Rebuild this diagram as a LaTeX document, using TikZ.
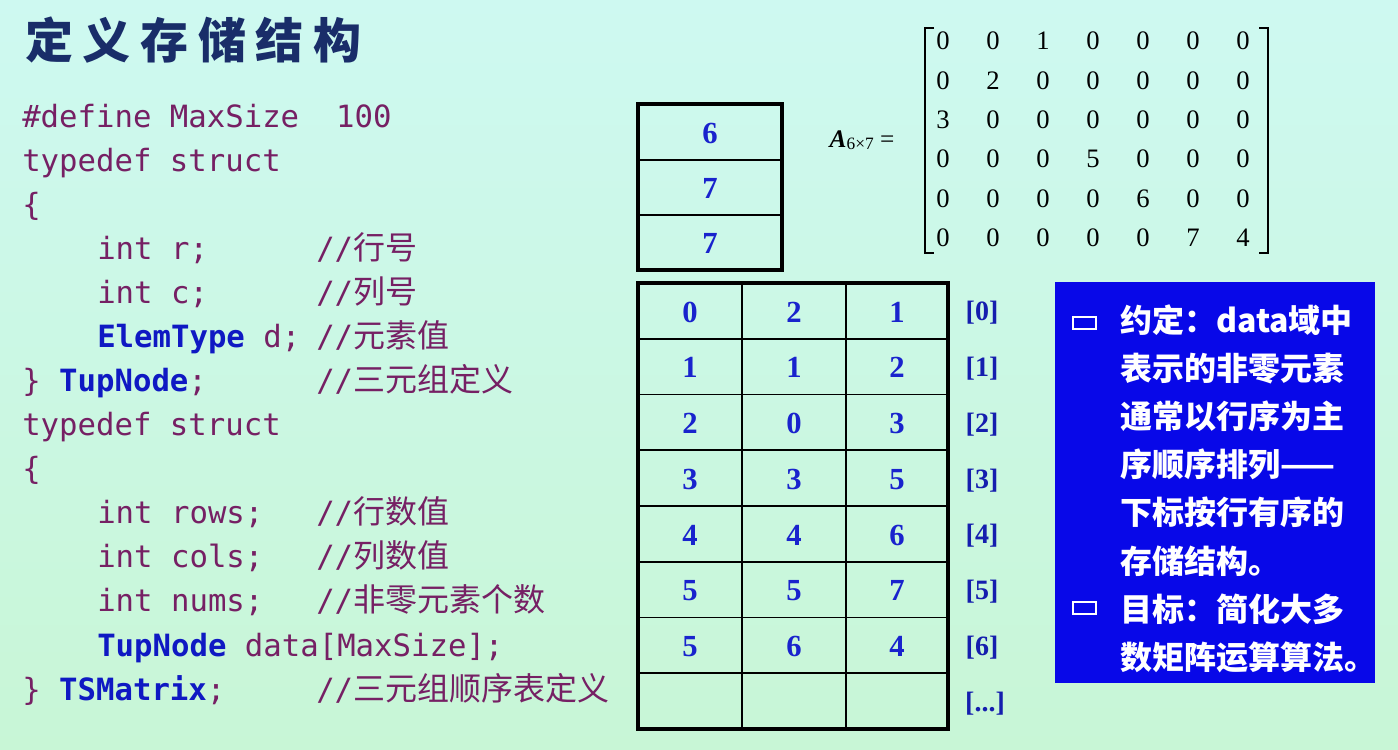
\documentclass[tikz,border=0pt]{standalone}
\usepackage{fontspec}
\setmainfont{Liberation Serif}
\newfontfamily\cjk{Noto Sans CJK SC}
\newfontfamily\codefont{DejaVu Sans Mono}
\newfontfamily\titlefont[LetterSpace=20]{Noto Sans CJK SC}
\definecolor{bgtop}{RGB}{206,249,241}
\definecolor{bgbot}{RGB}{200,246,214}
\definecolor{codec}{RGB}{118,32,100}
\definecolor{kwc}{RGB}{15,25,195}
\definecolor{numc}{RGB}{25,35,205}
\definecolor{boxc}{RGB}{8,8,232}
\definecolor{titlec}{RGB}{25,45,105}
\newcommand{\kwd}[1]{\textcolor{kwc}{\bfseries #1}}
\newcommand{\cjkc}{\cjk\fontsize{24}{28}\selectfont}
\begin{document}
\begin{tikzpicture}[x=0.75pt,y=-0.75pt,
  code/.style={anchor=base west, inner sep=0pt, text=codec, font=\codefont\fontsize{23}{27}\selectfont},
  num/.style={inner sep=0pt, text=numc, font=\bfseries\fontsize{23}{27}\selectfont},
  idx/.style={inner sep=0pt, text=numc!85!black, font=\bfseries\fontsize{21}{25}\selectfont},
  mat/.style={inner sep=0pt, text=black, font=\fontsize{20}{23}\selectfont},
  boxtxt/.style={anchor=base west, inner sep=0pt, text=white, font=\cjk\bfseries\fontsize{24}{28}\selectfont},
  outer/.style={line width=2.3pt},
  inner/.style={line width=1.4pt}]
\shade[top color=bgtop,bottom color=bgbot] (0,0) rectangle (1398,749);
\useasboundingbox (0,0) rectangle (1398,749);

% title
\node[anchor=west, inner sep=0pt, text=titlec, font=\titlefont\bfseries\fontsize{36}{40}\selectfont] (title) at (25,40) {定义存储结构};

% code
\node[code] (c1) at (22,127) {\#define MaxSize~~100};
\node[code] (c2) at (22,171.1) {typedef struct};
\node[code] (c3) at (22,215.2) {\{};
\node[code] (c4) at (97,259.2) {int r;};
\node[code] (k4) at (316,259.2) {//\cjkc 行号};
\node[code] (c5) at (97,303.3) {int c;};
\node[code] (k5) at (316,303.3) {//\cjkc 列号};
\node[code] (c6) at (97,347.4) {\kwd{ElemType} d;};
\node[code] (k6) at (316,347.4) {//\cjkc 元素值};
\node[code] (c7) at (22,391.5) {\} \kwd{TupNode};};
\node[code] (k7) at (316,391.5) {//\cjkc 三元组定义};
\node[code] (c8) at (22,435.6) {typedef struct};
\node[code] (c9) at (22,479.7) {\{};
\node[code] (c10) at (97,523.8) {int rows;};
\node[code] (k10) at (316,523.8) {//\cjkc 行数值};
\node[code] (c11) at (97,567.9) {int cols;};
\node[code] (k11) at (316,567.9) {//\cjkc 列数值};
\node[code] (c12) at (97,611.9) {int nums;};
\node[code] (k12) at (316,611.9) {//\cjkc 非零元素个数};
\node[code] (c13) at (97,656) {\kwd{TupNode} data[MaxSize];};
\node[code] (c14) at (22,700.1) {\} \kwd{TSMatrix};};
\node[code] (k14) at (316,700.1) {//\cjkc 三元组顺序表定义};

% small table
\draw[outer] (638,104) rectangle (782,270);
\draw[line width=3pt] (636.5,104) -- (783.5,104);
\draw[inner] (638,160) -- (782,160);
\draw[inner] (638,215) -- (782,215);
\node[num] (s1) at (710,133) {6};
\node[num] (s2) at (710,188) {7};
\node[num] (s3) at (710,243) {7};

% big table
\draw[outer] (638,283) rectangle (948,729);
\draw[inner] (742,283) -- (742,729);
\draw[inner] (846,283) -- (846,729);
\foreach \k in {1,...,7} {\draw[inner] (638,{283+55.75*\k}) -- (948,{283+55.75*\k});}
\foreach \a/\b/\c [count=\i from 0] in {0/2/1,1/1/2,2/0/3,3/3/5,4/4/6,5/5/7,5/6/4} {
  \node[num] (t\i a) at (690,{312+55.75*\i}) {\a};
  \node[num] (t\i b) at (794,{312+55.75*\i}) {\b};
  \node[num] (t\i c) at (897,{312+55.75*\i}) {\c};
  \node[idx] (x\i) at (982,{313+55.75*\i}) {[\i]};
}
\node[idx] (xdots) at (985,704) {[...]};

% matrix
\node[inner sep=0pt, font=\fontsize{19}{22}\selectfont] (A) at (862,140) {{\itshape\bfseries A}{\fontsize{13}{15}\selectfont\raisebox{-0.3ex}{6×7}} =};
\foreach \row [count=\i] in {{0,0,1,0,0,0,0},{0,2,0,0,0,0,0},{3,0,0,0,0,0,0},{0,0,0,5,0,0,0},{0,0,0,0,6,0,0},{0,0,0,0,0,7,4}} {
  \foreach \v [count=\j] in \row {
    \node[mat] (m\i-\j) at ({943+50*(\j-1)},{41+39.4*(\i-1)}) {\v};
  }
}
\draw[line width=1.5pt] (934,28) -- (925,28) -- (925,253) -- (934,253);
\draw[line width=1.5pt] (1259,28) -- (1268,28) -- (1268,253) -- (1259,253);

% blue box
\fill[boxc] (1055,282) rectangle (1375,683);
\draw[white, line width=1.2pt] (1073,317) rectangle (1096,329);
\draw[white, line width=1.2pt] (1073,602) rectangle (1096,614);
\node[boxtxt] (b1) at (1120,332) {约定：data域中};
\node[boxtxt] (b2) at (1120,380) {表示的非零元素};
\node[boxtxt] (b3) at (1120,428) {通常以行序为主};
\node[boxtxt] (b4) at (1120,476) {序顺序排列——};
\node[boxtxt] (b5) at (1120,524) {下标按行有序的};
\node[boxtxt] (b6) at (1120,573) {存储结构。};
\node[boxtxt] (b7) at (1120,621) {目标：简化大多};
\node[boxtxt] (b8) at (1120,669) {数矩阵运算算法。};
\end{tikzpicture}
\end{document}
